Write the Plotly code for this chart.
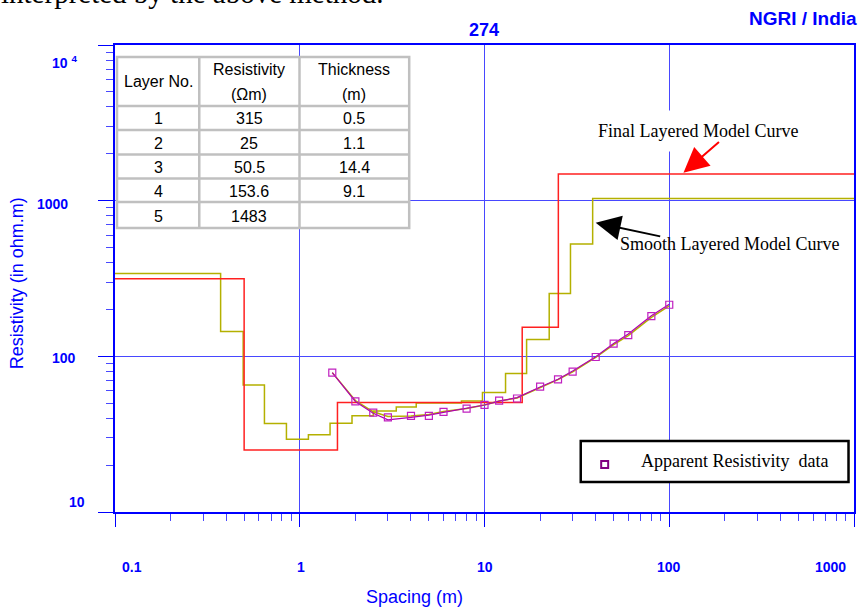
import numpy as np
import plotly.graph_objects as go

# ---------------- data ----------------
layer_no = [1, 2, 3, 4, 5]
layer_rho = [315, 25, 50.5, 153.6, 1483]
layer_thk = [0.5, 1.1, 14.4, 9.1, None]

# smooth layered model (boundary depths and resistivities)
smooth_bounds = [0.373, 0.494, 0.644, 0.847, 1.114, 1.459, 1.918, 2.50, 3.33,
                 4.27, 7.5, 9.75, 13.0, 16.9, 22.4, 29.2, 38.5]
smooth_rho = [340, 144.6, 65.5, 37.0, 29.3, 31.4, 37.2, 41.6, 44.6, 47.3,
              50.2, 51.7, 58.5, 77.5, 128.5, 253, 527, 1034]

# apparent resistivity field data
spacing = [1.5, 2, 2.5, 3, 4, 5, 6, 8, 10, 12, 15, 20, 25, 30, 40, 50, 60, 80, 100]
rho_obs = [78.6, 51.3, 43.5, 40.5, 41.4, 41.4, 44.0, 46.2, 48.7, 52.0, 53.6,
           63.9, 71.2, 79.8, 99.0, 120.6, 137, 181, 214.5]
# computed responses
rho_final_fit = [78.6, 51.3, 43.1, 39.1, 40.5, 41.9, 43.6, 46.2, 48.7, 51.5,
                 54.3, 63.5, 71.2, 80.5, 99.5, 121, 139, 182, 216]
rho_smooth_fit = [78.6, 52.0, 44.0, 41.1, 41.4, 42.3, 44.2, 46.3, 48.7, 51.6,
                  54.0, 63.3, 70.8, 79.5, 98.5, 119, 136, 178, 211]

x_tick_vals = [0.1, 1, 10, 100, 1000]
x_tick_text = ["0.1", "1", "10", "100", "1000"]
y_tick_vals = [10000, 1000, 100, 10]
y_tick_text = ["10 <sup>4</sup>", "1000", "100", "10"]

X_MIN, X_MAX = 0.1, 1000

# --------------- geometry helpers ---------------
W, H = 861, 607
ML, MR, MT, MB = 115, 5, 45, 95
PW, PH = W - ML - MR, H - MT - MB


def px(x):
    return (x - ML) / PW


def py(y):
    return (H - MB - y) / PH


BLUE = "#0000ff"
GRID = "#4848ff"
RED = "#ff2020"
OLIVE = "#b4b000"
MAG = "#b000b0"

fig = go.Figure()

# smooth layered model step curve
sx = [X_MIN] + smooth_bounds + [X_MAX]
sy = smooth_rho + [smooth_rho[-1]]
fig.add_trace(go.Scatter(x=sx, y=sy, mode="lines", line=dict(color=OLIVE, width=1.5, shape="hv"),
                         hoverinfo="skip"))

# final layered model step curve from the table
depths = list(np.cumsum([t for t in layer_thk if t is not None]))
fx = [X_MIN] + depths + [X_MAX]
fy = layer_rho + [layer_rho[-1]]
fig.add_trace(go.Scatter(x=fx, y=fy, mode="lines", line=dict(color=RED, width=1.5, shape="hv"),
                         hoverinfo="skip"))

# computed response curves
fig.add_trace(go.Scatter(x=spacing, y=rho_smooth_fit, mode="lines",
                         line=dict(color=OLIVE, width=1.5)))
fig.add_trace(go.Scatter(x=spacing, y=rho_final_fit, mode="lines",
                         line=dict(color=MAG, width=1.2)))
# observed data
fig.add_trace(go.Scatter(x=spacing, y=rho_obs, mode="markers",
                         marker=dict(symbol="square-open", size=7, color="#c020c0",
                                     line=dict(width=1.2))))

axis_common = dict(
    type="log", showline=True, linecolor=BLUE, linewidth=1.5, mirror=True,
    showgrid=True, gridcolor=GRID, gridwidth=1.3, zeroline=False,
    ticks="outside", tickcolor=BLUE, tickwidth=1.4, dtick=1,
    showticklabels=False,
    minor=dict(ticks="outside", ticklen=7, tickcolor=GRID, tickwidth=1.2,
               dtick="D1", showgrid=False),
)
fig.update_xaxes(range=[np.log10(X_MIN), np.log10(X_MAX)], ticklen=13, **axis_common)
fig.update_yaxes(range=[1, 4], ticklen=15, **axis_common)

annotations = []


def ann(**kw):
    d = dict(showarrow=False, xanchor="center", yanchor="middle")
    d.update(kw)
    annotations.append(d)


tick_font = dict(family="Liberation Sans, Arial", size=14, color=BLUE, weight="bold")
# x tick labels
x_shift = [17, 1, 0, 0, -24]
for v, t, s in zip(x_tick_vals, x_tick_text, x_shift):
    ann(x=np.log10(v), y=py(567), xref="x", yref="paper", text=t, xshift=s, font=tick_font)
# y tick labels (centres in pixels)
y_lab_x = [64, 52, 63.5, 76.5]
y_lab_shift = [-17, -3, -2, 10]
for v, t, xx, s in zip(y_tick_vals, y_tick_text, y_lab_x, y_lab_shift):
    ann(x=px(xx), y=np.log10(v), xref="paper", yref="y", text=t, yshift=s, font=tick_font)

# axis titles
ann(x=px(415), y=py(597), xref="paper", yref="paper", text="Spacing (m)",
    font=dict(family="Liberation Sans, Arial", size=18, color=BLUE))
ann(x=px(17), y=py(283), xref="paper", yref="paper", text="Resistivity (in ohm.m)", textangle=-90,
    font=dict(family="Liberation Sans, Arial", size=18, color=BLUE))
# header texts
ann(x=px(485), y=py(30), xref="paper", yref="paper", text="274",
    font=dict(family="Liberation Sans, Arial", size=18, color=BLUE, weight="bold"))
ann(x=px(805), y=py(18), xref="paper", yref="paper", text="NGRI / India",
    font=dict(family="Liberation Sans, Arial", size=19, color=BLUE, weight="bold"))
ann(x=px(-1), y=py(11), xref="paper", yref="paper", xanchor="left", yanchor="bottom",
    text="interpreted by the above method.",
    font=dict(family="Liberation Serif, Times New Roman", size=29, color="black"))

serif = dict(family="Liberation Serif, Times New Roman", size=18, color="black")
ann(x=px(700), y=py(131), xref="paper", yref="paper", text="Final Layered Model Curve",
    font=serif, bgcolor="white", borderpad=10)
ann(x=px(731), y=py(244), xref="paper", yref="paper", text="Smooth Layered Model Curve", font=serif)
# arrows
annotations.append(dict(x=px(685), y=py(172.7), xref="paper", yref="paper", text="",
                        showarrow=True, ax=37, ay=-32, arrowhead=2, arrowsize=2.5,
                        arrowwidth=2, arrowcolor="#ff0000"))
annotations.append(dict(x=px(597), y=py(222.7), xref="paper", yref="paper", text="",
                        showarrow=True, ax=66, ay=14, arrowhead=2, arrowsize=2.5,
                        arrowwidth=2, arrowcolor="black"))

shapes = []
# legend box
shapes.append(dict(type="rect", xref="paper", yref="paper", x0=px(582), x1=px(850.5),
                   y0=py(482), y1=py(441), line=dict(color="black", width=2.5),
                   fillcolor="white", layer="above"))
shapes.append(dict(type="rect", xref="paper", yref="paper", x0=px(602.5), x1=px(609.5),
                   y0=py(468), y1=py(461), line=dict(color="#800080", width=2),
                   fillcolor="white", layer="above"))
ann(x=px(640), y=py(461), xref="paper", yref="paper", xanchor="left",
    text="Apparent Resistivity  data", font=serif)

# table
col_edges = [117, 199.5, 300, 410]
row_edges = [57, 106, 130, 154.5, 178.5, 202, 228]
TG = "#c0c0c0"
shapes.append(dict(type="rect", xref="paper", yref="paper", x0=px(col_edges[0]), x1=px(col_edges[-1]),
                   y0=py(row_edges[-1]), y1=py(row_edges[0]), line=dict(color=TG, width=2.5),
                   fillcolor="white", layer="above"))
for c in col_edges[1:-1]:
    shapes.append(dict(type="line", xref="paper", yref="paper", x0=px(c), x1=px(c),
                       y0=py(row_edges[-1]), y1=py(row_edges[0]), line=dict(color=TG, width=2.5),
                       layer="above"))
for r in row_edges[1:-1]:
    shapes.append(dict(type="line", xref="paper", yref="paper", x0=px(col_edges[0]),
                       x1=px(col_edges[-1]), y0=py(r), y1=py(r), line=dict(color=TG, width=2.5),
                       layer="above"))
# 1000 gridline showing through the table border
shapes.append(dict(type="line", xref="paper", yref="y", x0=0, x1=px(col_edges[-1]),
                   y0=3, y1=3, line=dict(color=GRID, width=1.2), layer="above"))

tfont = dict(family="Liberation Sans, Arial", size=16, color="black")
col_c = [(col_edges[i] + col_edges[i + 1]) / 2 for i in range(3)]
hdr = [("Layer No.", col_c[0], 81), ("Resistivity", col_c[1], 69), ("(Ωm)", col_c[1], 94),
       ("Thickness", col_c[2], 69), ("(m)", col_c[2], 94)]
for t, xx, yy in hdr:
    ann(x=px(xx), y=py(yy), xref="paper", yref="paper", text=t, font=tfont)
for i, (n, r, th) in enumerate(zip(layer_no, layer_rho, layer_thk)):
    yy = (row_edges[i + 1] + row_edges[i + 2]) / 2 + 1
    cells = [str(n), f"{r:g}", "" if th is None else f"{th:g}"]
    for xx, t in zip(col_c, cells):
        if t:
            ann(x=px(xx), y=py(yy), xref="paper", yref="paper", text=t, font=tfont)

fig.update_layout(
    width=W, height=H, margin=dict(l=ML, r=MR, t=MT, b=MB),
    paper_bgcolor="white", plot_bgcolor="white", showlegend=False,
    annotations=annotations, shapes=shapes,
)

fig.write_html("out.html", config={"displayModeBar": False},
               post_script="document.body.style.margin='0px';")
